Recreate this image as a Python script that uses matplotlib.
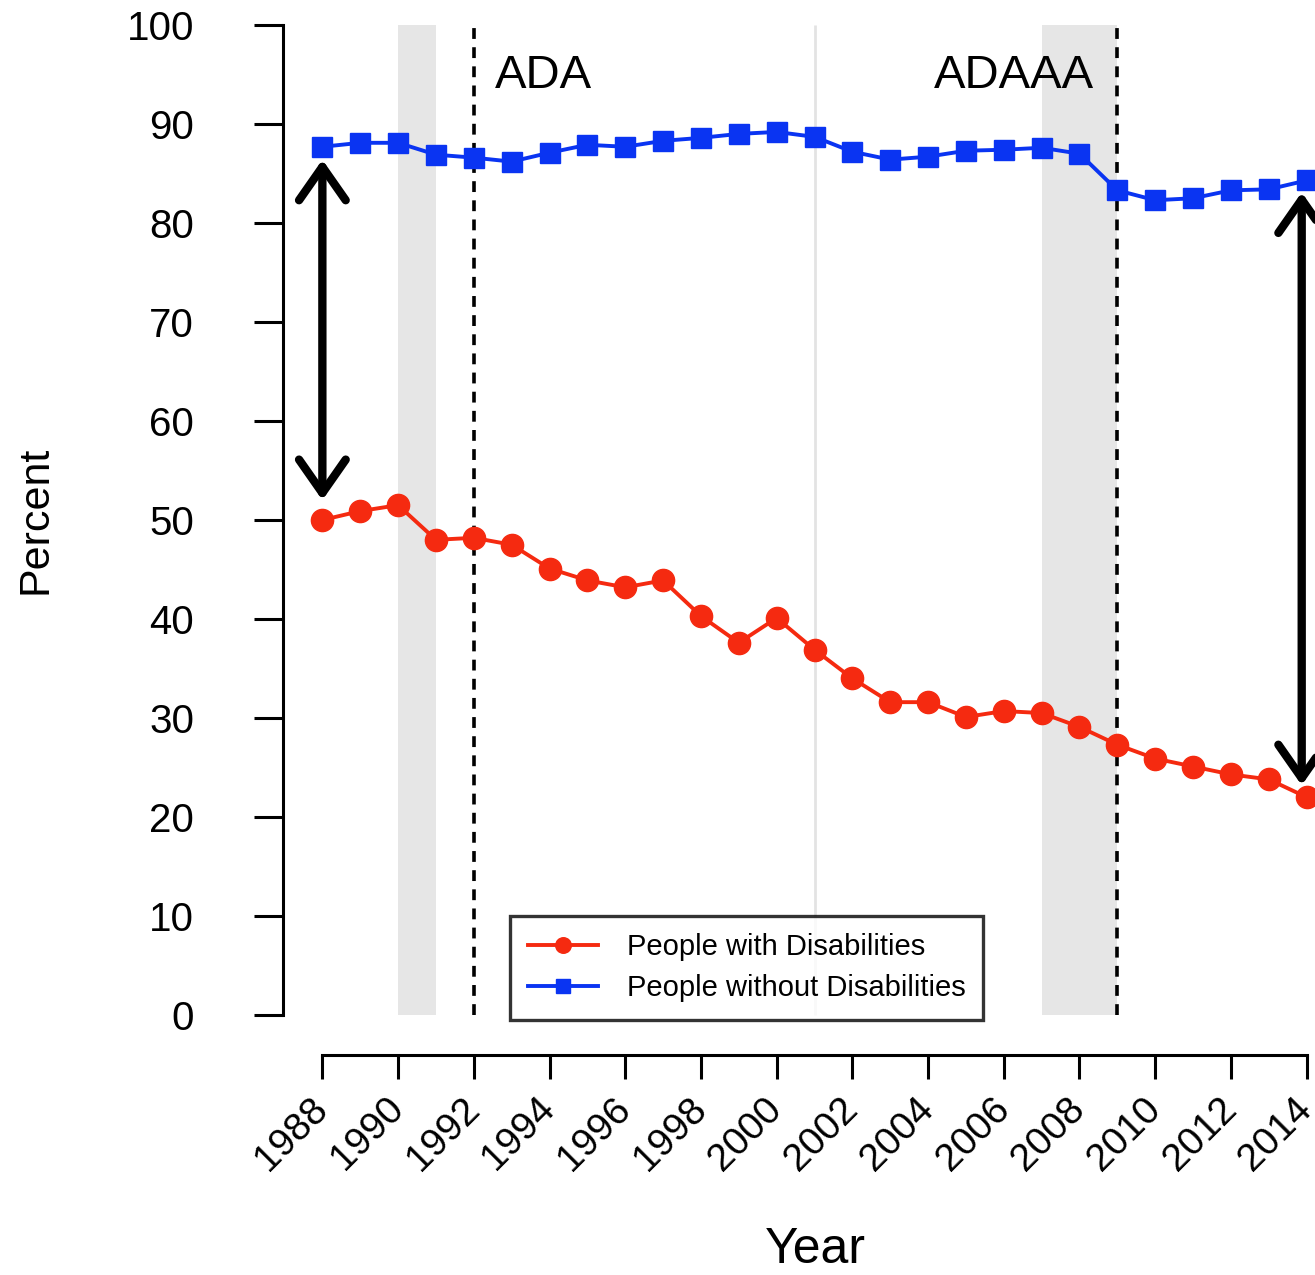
import matplotlib
matplotlib.use('Agg')
import matplotlib.pyplot as plt
import numpy as np

# employment rate, percent
years = list(range(1988, 2015))
with_dis = [50.0, 50.9, 51.5, 48.0, 48.2, 47.5, 45.1, 43.9, 43.2, 43.9,
            40.3, 37.6, 40.1, 36.9, 34.0, 31.6, 31.6, 30.1, 30.7, 30.5,
            29.1, 27.3, 25.9, 25.1, 24.3, 23.8, 22.0]
without_dis = [87.7, 88.1, 88.1, 86.9, 86.6, 86.2, 87.1, 87.9, 87.7, 88.3,
               88.6, 89.0, 89.2, 88.7, 87.2, 86.4, 86.7, 87.3, 87.4, 87.6,
               87.0, 83.3, 82.3, 82.5, 83.3, 83.4, 84.3]
recessions = [(1990, 1991), (2007, 2009)]
recession_2001 = 2001
laws = [1992, 2009]
law_names = ['ADA', 'ADAAA']
series_names = ['People with Disabilities', 'People without Disabilities']
x_ticks = list(range(1988, 2015, 2))
y_ticks = list(range(0, 101, 10))

plt.rcParams['font.family'] = ['Liberation Sans', 'DejaVu Sans']

fig = plt.figure(figsize=(13.15, 12.75), dpi=100)
ax = fig.add_axes([283 / 1315, 1 - 1054.6 / 1275, (1346 - 283) / 1315, (1054.6 + 14.6) / 1275])
ax.set_xlim(years[0] - 1.04, years[-1] + 1.04)
ax.set_ylim(-4, 104)

# recession shading
for a, b in recessions:
    ax.fill_between([a, b], 0, 100, color='#e6e6e6', lw=0, zorder=0)
ax.vlines(recession_2001, 0, 100, color='#e3e3e3', lw=2, zorder=0)

# law lines
for yr in laws:
    ax.vlines(yr, 0, 100.5, color='black', lw=2.6, linestyles=(0, (3, 2.3)), zorder=1)
ax.text(laws[0] + 0.55, 93.6, law_names[0], fontsize=34, va='baseline', ha='left')
ax.text(laws[1] - 0.62, 93.6, law_names[1], fontsize=34, va='baseline', ha='right')

ax.plot(years, with_dis, color='#f52a10', lw=2.8, marker='o', ms=16,
        label=series_names[0], zorder=3)
ax.plot(years, without_dis, color='#0a34f2', lw=2.8, marker='s', ms=15,
        label=series_names[1], zorder=3)

# gap arrows
arrow = dict(arrowstyle='<->, head_length=0.6, head_width=0.42', lw=6,
             color='black', mutation_scale=40, shrinkA=0, shrinkB=0)
ax.annotate('', xy=(years[0], without_dis[0] - 1.3), xytext=(years[0], with_dis[0] + 2.0),
            arrowprops=arrow, zorder=4)
ax.annotate('', xy=(years[-1] - 0.13, without_dis[-1] - 1.2), xytext=(years[-1] - 0.13, with_dis[-1] + 1.2),
            arrowprops=arrow, zorder=4)

leg = ax.legend(loc='lower left', bbox_to_anchor=(1992.96, -0.5), bbox_transform=ax.transData,
                fontsize=21, frameon=True, fancybox=False, edgecolor='black',
                handlelength=2.4, handletextpad=1.0, labelspacing=0.45,
                borderpad=0.6, borderaxespad=0, markerscale=0.7)
leg.get_frame().set_linewidth(2.4)
leg.set_zorder(5)

for s in ['top', 'right']:
    ax.spines[s].set_visible(False)
ax.spines['left'].set_bounds(0, 100)
ax.spines['bottom'].set_bounds(years[0], years[-1])
ax.spines['left'].set_linewidth(2.2)
ax.spines['bottom'].set_linewidth(2.2)

ax.set_yticks(y_ticks)
ax.set_xticks(x_ticks)
ax.tick_params(axis='y', length=21, width=2.2, labelsize=29, pad=43)
ax.tick_params(axis='x', length=17, width=2.2, labelsize=28, pad=18)
plt.setp(ax.get_xticklabels(), rotation=45, ha='right', va='center', rotation_mode='anchor')

fig.text(35 / 1315, 1 - 520 / 1275, 'Percent', rotation=90, fontsize=31, ha='center', va='center')
fig.text(815 / 1315, 1 - 1250 / 1275, 'Year', fontsize=36, ha='center', va='center')

fig.savefig('out.png', dpi=100)
